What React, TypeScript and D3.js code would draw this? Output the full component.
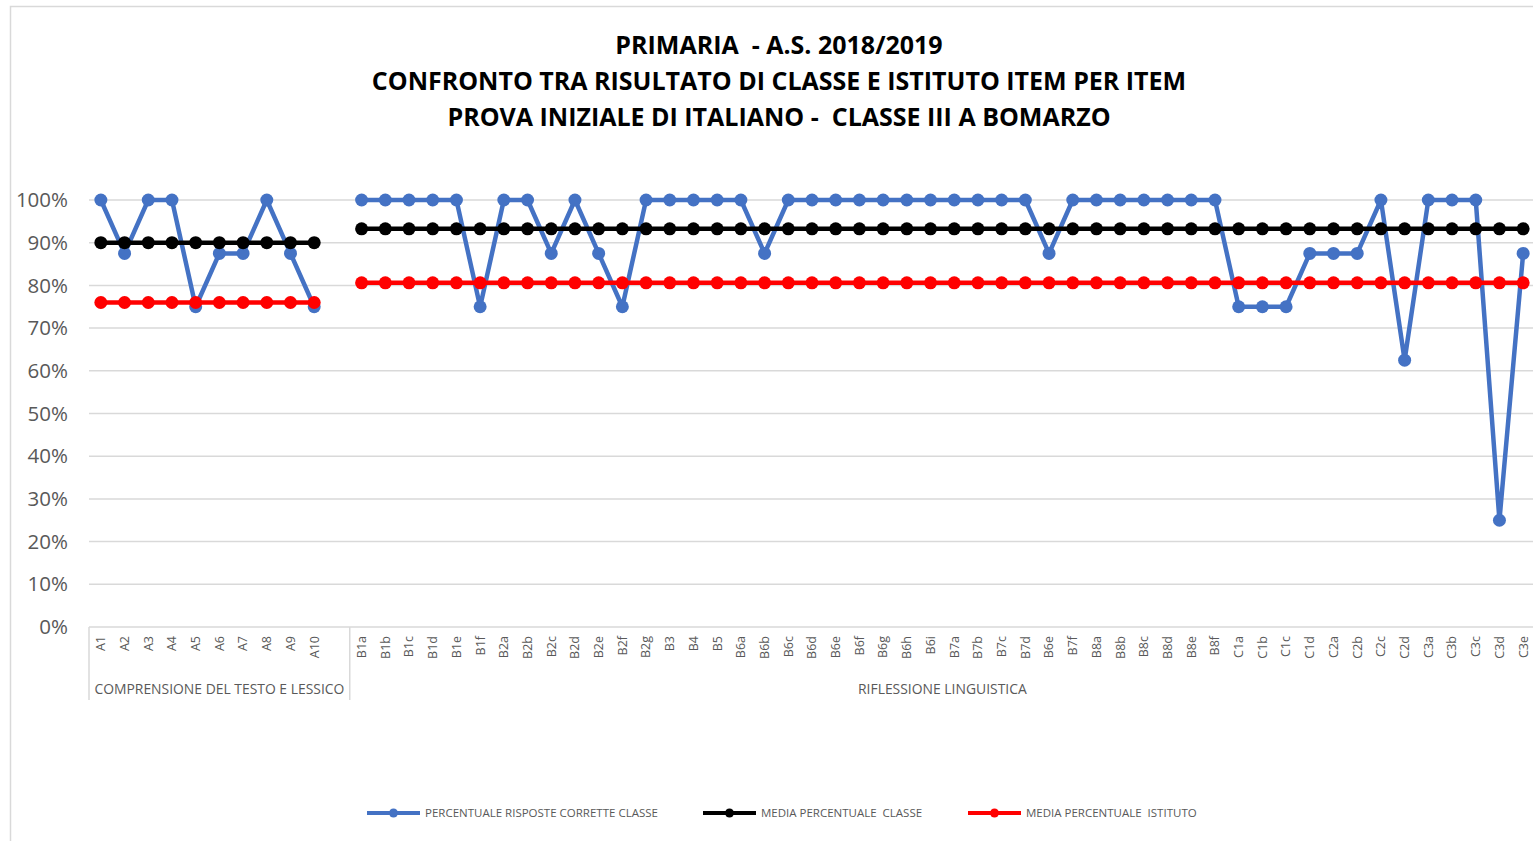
import React from "react";
import * as d3 from "d3";

const titleLines = [
  "PRIMARIA  - A.S. 2018/2019",
  "CONFRONTO TRA RISULTATO DI CLASSE E ISTITUTO ITEM PER ITEM",
  "PROVA INIZIALE DI ITALIANO -  CLASSE III A BOMARZO",
];

const categories = [
  "A1", "A2", "A3", "A4", "A5", "A6", "A7", "A8", "A9", "A10", "",
  "B1a", "B1b", "B1c", "B1d", "B1e", "B1f", "B2a", "B2b", "B2c", "B2d", "B2e", "B2f", "B2g",
  "B3", "B4", "B5", "B6a", "B6b", "B6c", "B6d", "B6e", "B6f", "B6g", "B6h", "B6i",
  "B7a", "B7b", "B7c", "B7d", "B6e", "B7f", "B8a", "B8b", "B8c", "B8d", "B8e", "B8f",
  "C1a", "C1b", "C1c", "C1d", "C2a", "C2b", "C2c", "C2d", "C3a", "C3b", "C3c", "C3d", "C3e",
];

const groupNames = ["COMPRENSIONE DEL TESTO E LESSICO", "RIFLESSIONE LINGUISTICA"];
const groupSizes = [11, 50];

const classeValues: (number | null)[] = [
  1, 0.875, 1, 1, 0.75, 0.875, 0.875, 1, 0.875, 0.75, null,
  1, 1, 1, 1, 1, 0.75, 1, 1, 0.875, 1, 0.875, 0.75, 1,
  1, 1, 1, 1, 0.875, 1, 1, 1, 1, 1, 1, 1,
  1, 1, 1, 1, 0.875, 1, 1, 1, 1, 1, 1, 1,
  0.75, 0.75, 0.75, 0.875, 0.875, 0.875, 1, 0.625, 1, 1, 1, 0.25, 0.875,
];

const mediaClasse: (number | null)[] = [
  0.9, 0.9, 0.9, 0.9, 0.9, 0.9, 0.9, 0.9, 0.9, 0.9, null,
  0.9325, 0.9325, 0.9325, 0.9325, 0.9325, 0.9325, 0.9325, 0.9325, 0.9325, 0.9325, 0.9325, 0.9325, 0.9325,
  0.9325, 0.9325, 0.9325, 0.9325, 0.9325, 0.9325, 0.9325, 0.9325, 0.9325, 0.9325, 0.9325, 0.9325,
  0.9325, 0.9325, 0.9325, 0.9325, 0.9325, 0.9325, 0.9325, 0.9325, 0.9325, 0.9325, 0.9325, 0.9325,
  0.9325, 0.9325, 0.9325, 0.9325, 0.9325, 0.9325, 0.9325, 0.9325, 0.9325, 0.9325, 0.9325, 0.9325, 0.9325,
];

const mediaIstituto: (number | null)[] = [
  0.76, 0.76, 0.76, 0.76, 0.76, 0.76, 0.76, 0.76, 0.76, 0.76, null,
  0.806, 0.806, 0.806, 0.806, 0.806, 0.806, 0.806, 0.806, 0.806, 0.806, 0.806, 0.806, 0.806,
  0.806, 0.806, 0.806, 0.806, 0.806, 0.806, 0.806, 0.806, 0.806, 0.806, 0.806, 0.806,
  0.806, 0.806, 0.806, 0.806, 0.806, 0.806, 0.806, 0.806, 0.806, 0.806, 0.806, 0.806,
  0.806, 0.806, 0.806, 0.806, 0.806, 0.806, 0.806, 0.806, 0.806, 0.806, 0.806, 0.806, 0.806,
];

const yTicks = [0, 0.1, 0.2, 0.3, 0.4, 0.5, 0.6, 0.7, 0.8, 0.9, 1];

const seriesNames = [
  "PERCENTUALE RISPOSTE CORRETTE CLASSE",
  "MEDIA PERCENTUALE  CLASSE",
  "MEDIA PERCENTUALE  ISTITUTO",
];
const seriesColors = ["#4472C4", "#000000", "#FF0000"];

const W = 1533;
const H = 841;
const plotLeft = 89;
const plotRight = 1535;
const plotTop = 200;
const plotBottom = 627;
const font = "'Open Sans', sans-serif";
const textGray = "#595959";
const gridGray = "#d9d9d9";

export default function App() {
  const x = d3
    .scaleBand<number>()
    .domain(categories.map((_, i) => i))
    .range([plotLeft, plotRight])
    .paddingInner(0)
    .paddingOuter(0);
  const cx = (i: number) => (x(i) as number) + x.bandwidth() / 2;
  const y = d3.scaleLinear().domain([0, 1]).range([plotBottom, plotTop]);
  const fmt = d3.format(".0%");

  const allSeries = [classeValues, mediaClasse, mediaIstituto];

  const line = d3
    .line<number | null>()
    .defined((d) => d != null)
    .x((_, i) => cx(i))
    .y((d) => y(d as number));

  const bounds: number[] = [0];
  groupSizes.forEach((s) => bounds.push(bounds[bounds.length - 1] + s));
  const bx = (k: number) => (k < categories.length ? (x(k) as number) : plotRight);

  const legendX = [367, 703, 968];
  const legendY = 813;

  return (
    <svg
      width={W}
      height={H}
      style={{ position: "absolute", left: 0, top: 0, background: "#fff", whiteSpace: "pre" }}
    >
      <rect x={0} y={0} width={W} height={H} fill="#fff" />
      <path d={`M10.5,${H} V6.5 H${W}`} fill="none" stroke={gridGray} strokeWidth={1.5} />

      {titleLines.map((t, i) => (
        <text
          key={i}
          x={779}
          y={53.5 + i * 36}
          textAnchor="middle"
          fontFamily={font}
          fontWeight={700}
          fontSize={25}
          fill="#000"
          style={{ whiteSpace: "pre" }}
        >
          {t}
        </text>
      ))}

      {yTicks.map((t) => (
        <line
          key={t}
          x1={plotLeft}
          x2={plotRight}
          y1={y(t)}
          y2={y(t)}
          stroke={gridGray}
          strokeWidth={1.5}
        />
      ))}

      {yTicks.map((t) => (
        <text
          key={"l" + t}
          x={68}
          y={y(t)}
          dy="0.35em"
          textAnchor="end"
          fontFamily={font}
          fontSize={20.5}
          fill={textGray}
        >
          {fmt(t)}
        </text>
      ))}

      {bounds.map((b, i) => (
        <line
          key={"b" + i}
          x1={bx(b)}
          x2={bx(b)}
          y1={plotBottom}
          y2={700}
          stroke={gridGray}
          strokeWidth={1.5}
        />
      ))}

      {categories.map((c, i) => (
        <text
          key={"c" + i}
          transform={`translate(${cx(i)},636) rotate(-90)`}
          textAnchor="end"
          dy="0.35em"
          fontFamily={font}
          fontSize={12.5}
          fill={textGray}
        >
          {c}
        </text>
      ))}

      {groupNames.map((g, i) => (
        <text
          key={"g" + i}
          x={(bx(bounds[i]) + bx(bounds[i + 1])) / 2}
          y={694}
          textAnchor="middle"
          fontFamily={font}
          fontSize={13.9}
          fill={textGray}
        >
          {g}
        </text>
      ))}

      {allSeries.map((s, si) => (
        <g key={"s" + si}>
          <path
            d={line(s) || ""}
            fill="none"
            stroke={seriesColors[si]}
            strokeWidth={4.5}
            strokeLinejoin="round"
          />
          {s.map((v, i) =>
            v == null ? null : (
              <circle key={i} cx={cx(i)} cy={y(v)} r={6.5} fill={seriesColors[si]} />
            )
          )}
        </g>
      ))}

      {seriesNames.map((n, i) => (
        <g key={"lg" + i}>
          <line
            x1={legendX[i]}
            x2={legendX[i] + 53}
            y1={legendY}
            y2={legendY}
            stroke={seriesColors[i]}
            strokeWidth={4}
          />
          <circle cx={legendX[i] + 26.5} cy={legendY} r={4.5} fill={seriesColors[i]} />
          <text
            x={legendX[i] + 58}
            y={legendY}
            dy="0.35em"
            fontFamily={font}
            fontSize={11.5}
            fill={textGray}
            style={{ whiteSpace: "pre" }}
          >
            {n}
          </text>
        </g>
      ))}
    </svg>
  );
}
